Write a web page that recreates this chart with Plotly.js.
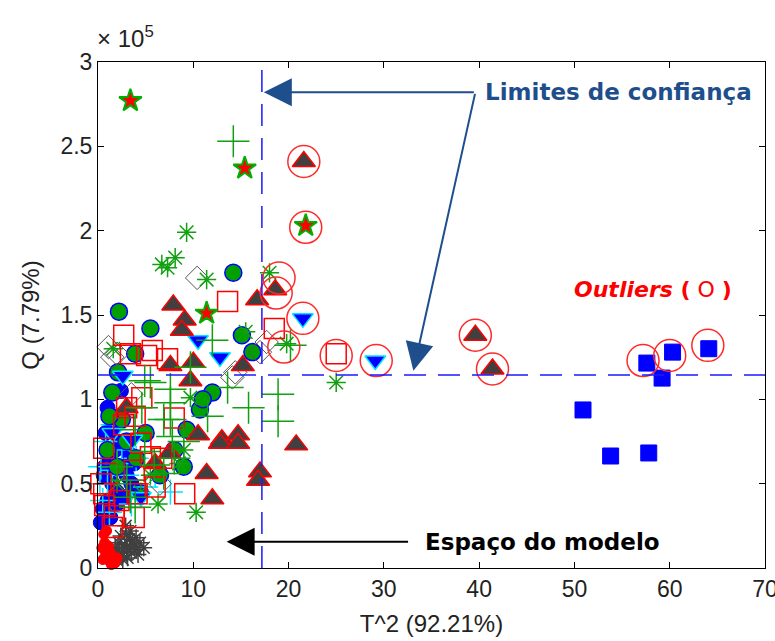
<!DOCTYPE html>
<html><head><meta charset="utf-8">
<script src="https://cdn.plot.ly/plotly-3.0.1.min.js"></script>
<style>html,body{margin:0;padding:0;background:#fff}#chart{width:775px;height:641px}</style>
</head><body><div id="chart"></div>
<script>
// T^2 (x) and Q (y) values per class
const grayAstX = [1.5,2.0,2.5,3.0,3.5,4.0,2.2,2.8,3.3,3.8,1.8,2.4,3.0,3.6,4.2,2.6,3.1,1.9,2.7,3.4,4.0,2.3,2.9,3.5,4.4,1.2,4.8];
const grayAstY = [8000,10000,7000,12000,9000,11000,15000,14000,17000,13000,12000,19000,20000,16000,8000,5000,6000,5000,10000,22000,18000,9000,25000,12000,15000,11000,12000];
const redDotX = [0.5,0.8,1.0,1.2,1.5,0.7,1.1,1.4,0.6,0.9,1.3,1.8,0.4,2.0];
const redDotY = [5000,8000,10000,4000,6000,15000,13000,2000,20000,22000,9000,3000,12000,6000];
const blueX = [0.5,1.0,1.5,2.0,2.5,3.0,3.5,1.2,1.8,2.6,3.2,0.8,1.5,2.2,2.8,0.6,1.3,2.0,3.8,4.5,1.0,2.4,0.3,0.7];
const blueY = [35000,40000,50000,45000,60000,55000,50000,65000,70000,75000,68000,80000,85000,90000,42000,55000,30000,38000,62000,45000,95000,105000,27000,60000];
const cyanX = [0.5,1.0,1.5,2.0,2.5,3.0,4.0,5.0,7.6,0.8,1.6,2.8,3.5,1.2,0.3,0.2,6.0];
const cyanY = [40000,50000,58000,62000,70000,55000,65000,48000,45000,75000,85000,90000,38000,33000,60000,50000,55000];
const greenCircX = [2.2,5.5,14.2,15.1,16.2,3.9,2.1,12.0,10.7,9.3,1.5,2.5,3.0,1.0,2.0,4.0,6.5,8.0,11.0,1.2,5.0,9.0];
const greenCircY = [152000,142000,175000,138000,128000,127000,116000,104000,94000,82000,104000,88000,75000,70000,60000,65000,55000,70000,100000,90000,80000,60000];
const diamX = [10.4,1.1,2.0,17.7,14.4,17.0,14.1,6.5,1.5,3.5];
const diamY = [172000,131000,127000,134000,116000,128000,113000,50000,125000,103000];
const greenAstX = [9.3,8.1,6.7,7.3,11.4,18.0,9.7,19.8,25.0,10.3,6.3,9.0,5.5,4.5,2.0,1.6,15.5,8.5];
const greenAstY = [199000,184000,180000,178000,171000,175000,101000,133000,110000,33000,38000,70000,55000,45000,50000,130000,140000,62000];
const downTriX = [10.5,12.8,2.6,21.5,29.1,3.6,1.5,4.5];
const downTriY = [135000,125000,114000,148000,123000,76000,80000,42000];
const triX = [21.6,18.6,7.9,9.1,8.8,16.7,15.2,9.7,7.6,13.0,14.7,11.4,12.0,17.0,16.8,12.8,14.7,10.5,20.8,39.6,41.4,6.0,7.5,3.0,10.0];
const triY = [241000,165000,156000,147000,141000,159000,120000,111000,120000,76000,79000,56000,41000,57000,52000,74000,74000,79000,73000,138000,118000,62000,68000,95000,122000];
const sqX = [13.6,2.7,18.5,25.0,7.3,5.1,5.7,3.4,4.6,3.0,3.9,2.7,8.0,0.6,5.5,6.7,0.6,3.8,4.1,1.7,3.8,0.7,9.1,1.5,1.0,2.2,0.3,6.0,4.5];
const sqY = [158000,138000,142000,127000,124000,126000,129000,127000,101000,95000,90000,85000,89000,71000,66000,65000,44000,58000,44000,31000,30000,37000,44000,24000,56000,40000,50000,48000,74000];
const plusX = [14.2,12.0,9.7,13.6,7.6,7.6,5.5,18.9,18.9,20.2,4.9,7.6,4.6,6.9,7.8,3.9,4.9,8.0,3.0,3.4,3.9,5.9,6.9,11.5,2.0,15.8,9.0];
const plusY = [253000,135000,119000,107000,98000,88000,110000,103000,87000,132000,111000,106000,95000,88000,78000,82000,69000,65000,52000,42000,36000,61000,56000,90000,60000,95000,75000];
const starX = [3.4,15.4,21.8,11.4];
const starY = [277000,237000,203000,151000];
const blueSqX = [57.6,60.3,64.1,59.2,50.9,53.8,57.8];
const blueSqY = [121500,128000,130000,112600,93700,66400,68200];
const outX = [21.6,21.8,19.0,18.7,21.5,19.5,25.0,29.2,39.6,41.4,57.2,60.0,64.0];
const outY = [241000,202000,172000,163000,148000,131000,126000,123000,138000,118000,123000,126000,132000];
const limT2 = 17.2;
const limQ = 114400;
const yTickVals = [0,50000,100000,150000,200000,250000,300000];
const yTickText = ['0','0.5','1','1.5','2','2.5','3'];
const xTickVals = [0,10,20,30,40,50,60,70];

function tr(x,y,symbol,size,fill,edge,lw){
  return {type:'scatter',mode:'markers',x:x,y:y,cliponaxis:false,hoverinfo:'skip',
    marker:{symbol:symbol,size:size,color:fill,line:{color:edge,width:lw}}};
}
const data = [
  tr(blueX,blueY,'circle',15,'#0000ff','#0000cc',1),
  tr(cyanX,cyanY,'cross-thin-open',18,'#00e5ff','#00e5ff',1.5),
  tr(grayAstX,grayAstY,'asterisk-open',14,'#404040','#404040',1.5),
  tr(redDotX,redDotY,'circle',10,'#ff0000','#ff0000',1),
  tr(greenCircX,greenCircY,'circle',17,'#00a000','#0000ff',1.5),
  tr(diamX,diamY,'diamond-open',18,'#555555','#555555',1),
  tr(greenAstX,greenAstY,'asterisk-open',16,'#10a010','#10a010',1.5),
  tr(downTriX,downTriY,'triangle-down',18,'#0000ff','#00e5ff',1.5),
  tr(triX,triY,'triangle-up',20,'#404040','#ff0000',1.5),
  tr(sqX,sqY,'square-open',20,'#ff0000','#ff0000',1.5),
  tr(plusX,plusY,'cross-thin-open',23,'#10a010','#10a010',1.5),
  tr(starX,starY,'star',17,'#ff0000','#00b000',2),
  tr(blueSqX,blueSqY,'square',16,'#0000ff','#0000ff',1),
  tr(outX,outY,'circle-open',32,'#ff2a2a','#ff2a2a',1.5)
];
const tickFont = {family:'Liberation Sans, Arial, sans-serif',size:23,color:'#222'};
const titleFont = {family:'Liberation Sans, Arial, sans-serif',size:24,color:'#222'};
const layout = {
  width:775,height:641,showlegend:false,
  paper_bgcolor:'#fff',plot_bgcolor:'#fff',
  margin:{l:98,r:10,t:62,b:73},
  xaxis:{range:[0,70],tickvals:xTickVals,ticks:'inside',ticklen:6,tickcolor:'#000',ticklabeloverflow:'allow',
    showline:true,linecolor:'#000',linewidth:1,mirror:'allticks',showgrid:false,zeroline:false,
    tickfont:tickFont,title:{text:'T^2 (92.21%)',font:titleFont,standoff:14}},
  yaxis:{range:[0,300000],tickvals:yTickVals,ticktext:yTickText,ticks:'inside',ticklen:6,tickcolor:'#000',ticklabeloverflow:'allow',
    showline:true,linecolor:'#000',linewidth:1,mirror:'allticks',showgrid:false,zeroline:false,
    tickfont:tickFont,title:{text:'Q (7.79%)',font:titleFont,standoff:14}},
  shapes:[
    {type:'line',xref:'x',yref:'paper',x0:limT2,x1:limT2,y0:0,y1:1,line:{color:'#1a1aff',width:1.5,dash:'22px,12px'}},
    {type:'line',xref:'paper',yref:'y',x0:0,x1:1,y0:limQ,y1:limQ,line:{color:'#1a1aff',width:1.5,dash:'22px,12px'}}
  ],
  annotations:[
    {xref:'paper',yref:'paper',x:-0.004,y:1.015,xanchor:'left',yanchor:'bottom',showarrow:false,
      text:'× 10<sup>5</sup>',font:{family:'Liberation Sans, Arial, sans-serif',size:24,color:'#222'}},
    {xref:'x',yref:'y',axref:'x',ayref:'y',x:17.4,y:282000,ax:39.6,ay:282000,text:'',showarrow:true,
      arrowhead:2,arrowsize:2.8,arrowwidth:2,arrowcolor:'#1f4e8c'},
    {xref:'x',yref:'y',axref:'x',ayref:'y',x:33.1,y:117000,ax:39.6,ay:282000,text:'',showarrow:true,
      arrowhead:2,arrowsize:2.8,arrowwidth:2,arrowcolor:'#1f4e8c'},
    {xref:'x',yref:'y',axref:'x',ayref:'y',x:13.5,y:15500,ax:32.7,ay:15500,text:'',showarrow:true,
      arrowhead:2,arrowsize:2.8,arrowwidth:2,arrowcolor:'#000'},
    {xref:'x',yref:'y',x:40.4,y:282000,xanchor:'left',yanchor:'middle',showarrow:false,
      text:'<b>Limites de confiança</b>',font:{family:'DejaVu Sans, Verdana, sans-serif',size:23,color:'#1f4e8c'}},
    {xref:'x',yref:'y',x:34.1,y:15500,xanchor:'left',yanchor:'middle',showarrow:false,
      text:'<b>Espaço do modelo</b>',font:{family:'DejaVu Sans, Verdana, sans-serif',size:23,color:'#000'}},
    {xref:'x',yref:'y',x:49.7,y:165000,xanchor:'left',yanchor:'middle',showarrow:false,
      text:'<b><i>Outliers</i> (</b> O <b>)</b>',font:{family:'DejaVu Sans, Verdana, sans-serif',size:22,color:'#ff0000'}}
  ]
};
Plotly.newPlot('chart',data,layout,{staticPlot:true,displayModeBar:false});
</script></body></html>
